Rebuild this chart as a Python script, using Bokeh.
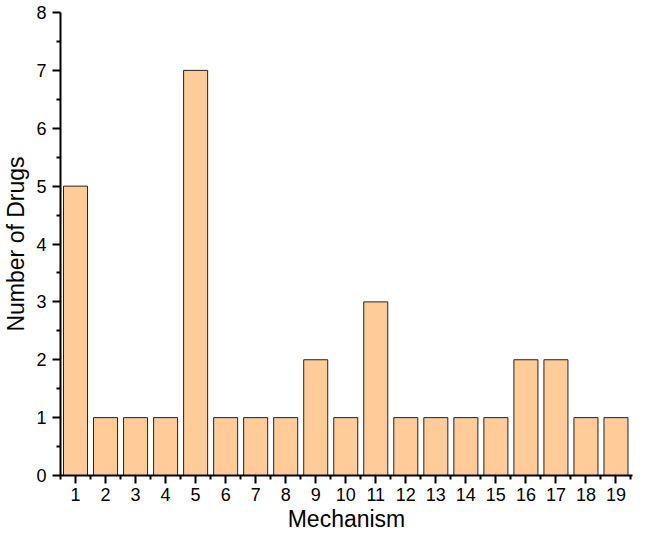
from bokeh.plotting import figure
from bokeh.models import FixedTicker, Range1d
from bokeh.embed import file_html
from bokeh.resources import INLINE

mechanisms = list(range(1, 20))
num_drugs = [5, 1, 1, 1, 7, 1, 1, 1, 2, 1, 3, 1, 1, 1, 1, 2, 2, 1, 1]
y_ticks = list(range(0, 9))

p = figure(width=636, height=541, output_backend="svg", toolbar_location=None,
           x_range=Range1d(0.5, 19.55), y_range=Range1d(0, 8))
p.min_border_left = 53
p.min_border_right = 4
p.min_border_top = 12
p.min_border_bottom = 66
p.outline_line_color = None
p.grid.visible = False
p.background_fill_color = "white"

p.vbar(x=mechanisms, top=num_drugs, width=0.8, bottom=0,
       fill_color="#FFCC99", line_color="#222222", line_width=1)

font = "Liberation Sans"
minor_x = [m - 0.5 for m in mechanisms] + [mechanisms[-1] + 0.5]
p.xaxis.ticker = FixedTicker(ticks=mechanisms, minor_ticks=minor_x)
minor_y = [t + 0.5 for t in y_ticks[:-1]]
p.yaxis.ticker = FixedTicker(ticks=y_ticks, minor_ticks=minor_y)

for ax in (p.xaxis[0], p.yaxis[0]):
    ax.axis_line_width = 2
    ax.axis_line_color = "black"
    ax.major_tick_line_width = 2
    ax.minor_tick_line_width = 2
    ax.major_tick_line_color = "black"
    ax.minor_tick_line_color = "black"
    ax.major_tick_in = 0
    ax.minor_tick_in = 0
    ax.major_tick_out = 8
    ax.minor_tick_out = 4
    ax.major_label_text_font = font
    ax.major_label_text_font_size = "18px"
    ax.major_label_text_color = "black"
    ax.axis_label_text_font = font
    ax.axis_label_text_font_size = "23px"
    ax.axis_label_text_font_style = "normal"
    ax.axis_label_text_color = "black"

p.xaxis.axis_label = "Mechanism"
p.yaxis.axis_label = "Number of Drugs"
p.xaxis.major_label_standoff = 4
p.yaxis.major_label_standoff = 6
p.xaxis.axis_label_standoff = 2
p.yaxis.axis_label_standoff = 4

open("out.html", "w").write(file_html(p, INLINE))
